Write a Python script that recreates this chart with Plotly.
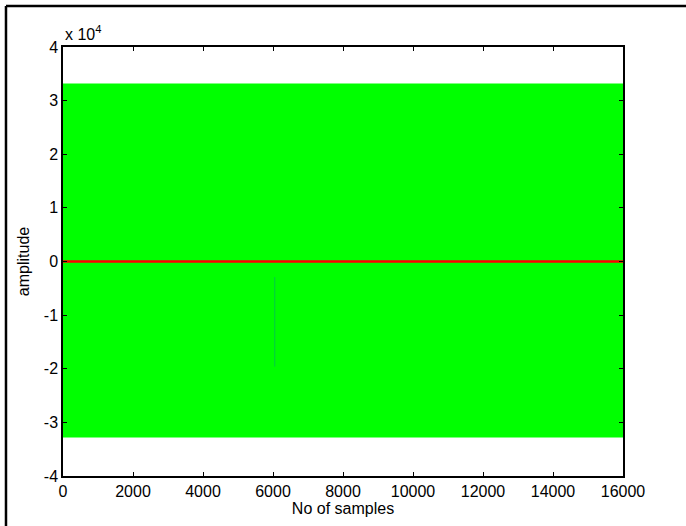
import plotly.graph_objects as go

# Data
band_x = [0, 16000]
band_upper = [33200, 33200]
band_lower = [-32800, -32800]
red_x = [0, 2000, 4000, 6000, 8000, 10000, 12000, 14000, 16000]
red_y = [0, 30, -20, 20, 0, 20, -15, 25, 0]
spike_x = [6050, 6050]
spike_y = [-2900, -19600]
tick_vals_x = [0, 2000, 4000, 6000, 8000, 10000, 12000, 14000, 16000]
tick_text_x = ['0', '2000', '4000', '6000', '8000', '10000', '12000', '14000', '16000']
tick_vals_y = [-40000, -30000, -20000, -10000, 0, 10000, 20000, 30000, 40000]
tick_text_y = ['-4', '-3', '-2', '-1', '0', '1', '2', '3', '4']

fig = go.Figure()
fig.add_trace(go.Scatter(x=band_x, y=band_upper, mode='lines',
                         line=dict(color='#00ff00', width=0), showlegend=False, hoverinfo='skip'))
fig.add_trace(go.Scatter(x=band_x, y=band_lower, mode='lines', fill='tonexty',
                         fillcolor='#00ff00', line=dict(color='#00ff00', width=0),
                         showlegend=False, hoverinfo='skip'))
fig.add_trace(go.Scatter(x=spike_x, y=spike_y, mode='lines',
                         line=dict(color='rgba(0,140,150,0.45)', width=1), showlegend=False))
fig.add_trace(go.Scatter(x=red_x, y=red_y, mode='lines',
                         line=dict(color='#ff0000', width=2.5), showlegend=False))

font = dict(family='Liberation Sans, Arial, Helvetica, sans-serif', size=16, color='black')

fig.update_layout(
    width=686, height=526,
    margin=dict(l=63, r=63, t=47, b=50),
    paper_bgcolor='white', plot_bgcolor='white',
    font=font,
    xaxis=dict(range=[0, 16000], tickvals=tick_vals_x, ticktext=tick_text_x,
               ticks='inside', ticklen=4,
               tickcolor='black', showline=True, linecolor='black', linewidth=1.5,
               mirror='ticks', showgrid=False, zeroline=False, automargin=False,
               title=dict(text='No of samples', standoff=0, font=font)),
    yaxis=dict(range=[-40000, 40000], tickvals=tick_vals_y, ticktext=tick_text_y,
               ticks='inside', ticklen=4, tickcolor='black', showline=True,
               linecolor='black', linewidth=1.5, mirror='ticks', showgrid=False,
               zeroline=False, automargin=False,
               title=dict(text='amplitude', standoff=10, font=font)),
    annotations=[dict(text='x 10<sup>4</sup>', xref='paper', yref='paper', x=0.0, y=1.0,
                      xanchor='left', yanchor='bottom', showarrow=False, font=font, yshift=2)],
    shapes=[
        dict(type='line', xref='paper', yref='paper', x0=-0.1018, y0=-0.2,
             x1=-0.1018, y1=1.0956, line=dict(color='black', width=2.5), layer='below'),
        dict(type='line', xref='paper', yref='paper', x0=-0.1018, y0=1.0956,
             x1=1.2, y1=1.0956, line=dict(color='black', width=2.5), layer='below'),
    ],
)

fig.write_html('out.html', config={'displayModeBar': False},
               post_script="document.body.style.margin='0';document.body.style.overflow='hidden';")
